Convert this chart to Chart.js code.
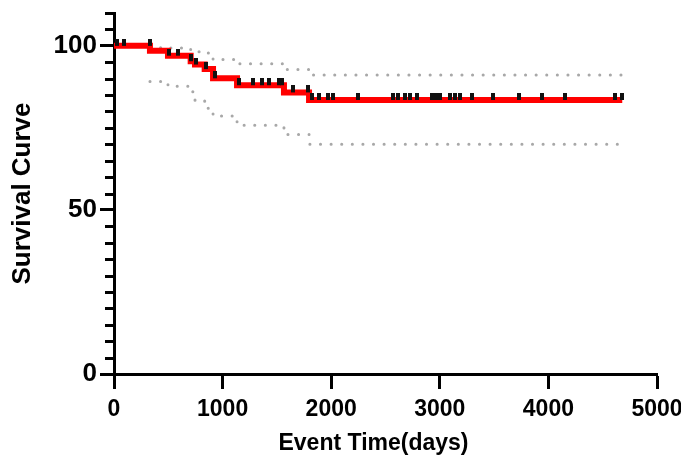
<!DOCTYPE html>
<html>
<head>
<meta charset="utf-8">
<script src="https://cdn.jsdelivr.net/npm/chart.js@4.4.1/dist/chart.umd.min.js"></script>
<style>
    html, body { margin: 0; padding: 0; background: #fff; }
</style>
</head>
<body>
<canvas id="kmChart" width="681" height="459"></canvas>
<script>
// Kaplan-Meier curve: event times (days) and survival (%) after each step
const kmDays = [0, 331, 497, 706, 746, 835, 912, 1133, 1565, 1796, 4680];
const kmSurv = [100, 98.5, 97.0, 95.3, 94.3, 92.9, 90.1, 88.0, 85.8, 83.5, 83.5];

// confidence band (dotted grey)
const ciDays = [331, 497, 706, 746, 835, 912, 1133, 1565, 1796, 4680];
const ciUpper = [99.4, 99.3, 98.8, 98.2, 97.8, 95.8, 94.5, 92.8, 91.1, 91.1];
const ciLower = [89.1, 87.7, 86.0, 83.3, 81.0, 78.6, 75.8, 73.0, 70.0, 70.0];

// censored observations (days)
const censorDays = [28, 92, 329, 506, 589, 709, 755, 847, 930, 1151, 1280, 1363, 1427, 1519,
    1547, 1648, 1786, 1823, 1888, 1970, 2017, 2247, 2569, 2615, 2680, 2726, 2790, 2928,
    2965, 3002, 3094, 3140, 3186, 3297, 3490, 3729, 3941, 4153, 4613, 4678];

const xTicks = [0, 1000, 2000, 3000, 4000, 5000];
const yTicks = [0, 50, 100];
const yMinor = [5, 10, 15, 20, 25, 30, 35, 40, 45, 55, 60, 65, 70, 75, 80, 85, 90, 95, 105, 110];

const xTitle = 'Event Time(days)';

document.addEventListener("DOMContentLoaded", function () {
    f_km();
})

function survAt(t) {
    // value of the step curve at time t
    let s = kmSurv[0];
    kmDays.forEach((d, i) => { if (d <= t) s = kmSurv[i]; });
    return s;
}

function f_km() {
    // small black censor tick, sitting on top of the red line
    const tickMark = document.createElement('canvas');
    tickMark.width = 4;
    tickMark.height = 14;
    const tctx = tickMark.getContext('2d');
    tctx.fillStyle = '#111';
    tctx.fillRect(0, 0, 4, 7);

    const minorTicks = {
        id: 'minorTicks',
        afterDraw(chart) {
            const y = chart.scales.y;
            const x = chart.scales.x;
            const c = chart.ctx;
            c.save();
            c.strokeStyle = '#000';
            c.lineWidth = 3;
            yMinor.forEach(v => {
                const py = Math.round(y.getPixelForValue(v)) + 0.5;
                c.beginPath();
                c.moveTo(y.right - 9, py);
                c.lineTo(y.right, py);
                c.stroke();
            });
            // x axis title, sits a little left of centre in the original
            c.fillStyle = '#000';
            c.font = 'bold 23px "Liberation Sans"';
            c.textAlign = 'center';
            c.textBaseline = 'alphabetic';
            c.fillText(xTitle, (x.left + x.right) / 2 - 12, 450);
            c.restore();
        }
    };

    const dotted = {
        showLine: true,
        stepped: 'before',
        borderColor: '#a8a8a8',
        borderWidth: 3,
        borderDash: [0.1, 10.5],
        borderCapStyle: 'round',
        pointRadius: 0,
        fill: false
    };

    const ctx = document.getElementById('kmChart').getContext('2d');
    new Chart(ctx, {
        type: 'scatter',
        data: {
            datasets: [
                {
                    label: 'Censored',
                    data: censorDays.map(d => ({ x: d, y: survAt(d) })),
                    pointStyle: tickMark,
                    pointRadius: 4,
                    showLine: false
                },
                {
                    label: 'Survival',
                    data: kmDays.map((d, i) => ({ x: d, y: kmSurv[i] })),
                    showLine: true,
                    stepped: 'before',
                    borderColor: '#ff0000',
                    borderWidth: 6,
                    pointRadius: 0
                },
                Object.assign({ label: 'Upper', data: ciDays.map((d, i) => ({ x: d, y: ciUpper[i] })) }, dotted),
                Object.assign({ label: 'Lower', data: ciDays.map((d, i) => ({ x: d, y: ciLower[i] })) }, dotted)
            ]
        },
        options: {
            responsive: false,
            animation: false,
            devicePixelRatio: 1,
            layout: { padding: { top: 13, right: 24, left: 0, bottom: 0 } },
            plugins: {
                legend: { display: false },
                tooltip: { enabled: false }
            },
            scales: {
                x: {
                    type: 'linear',
                    min: 0,
                    max: 5000,
                    afterBuildTicks: s => { s.ticks = xTicks.map(v => ({ value: v })); },
                    afterFit: s => { s.height = 85; s.paddingLeft = 0; s.paddingRight = 0; },
                    border: { display: true, color: '#000', width: 3 },
                    grid: { drawOnChartArea: false, drawTicks: true, tickLength: 15, tickWidth: 3, tickColor: '#000' },
                    ticks: {
                        color: '#000',
                        padding: 7,
                        maxRotation: 0,
                        callback: v => String(v),
                        font: { family: 'Liberation Sans', weight: 'bold', size: 23 }
                    },
                    title: { display: false }
                },
                y: {
                    min: 0,
                    max: 110,
                    afterBuildTicks: s => { s.ticks = yTicks.map(v => ({ value: v })); },
                    afterFit: s => { s.width = 114; s.paddingTop = 0; s.paddingBottom = 0; },
                    border: { display: true, color: '#000', width: 3 },
                    grid: { drawOnChartArea: false, drawTicks: true, tickLength: 14, tickWidth: 3, tickColor: '#000' },
                    ticks: {
                        color: '#000',
                        padding: 3,
                        callback: v => String(v),
                        font: { family: 'Liberation Sans', weight: 'bold', size: 26 }
                    },
                    title: {
                        display: true,
                        text: 'Survival Curve',
                        color: '#000',
                        padding: { top: 7, bottom: 0 },
                        font: { family: 'Liberation Sans', weight: 'bold', size: 26 }
                    }
                }
            }
        },
        plugins: [minorTicks]
    });
}
</script>
</body>
</html>
